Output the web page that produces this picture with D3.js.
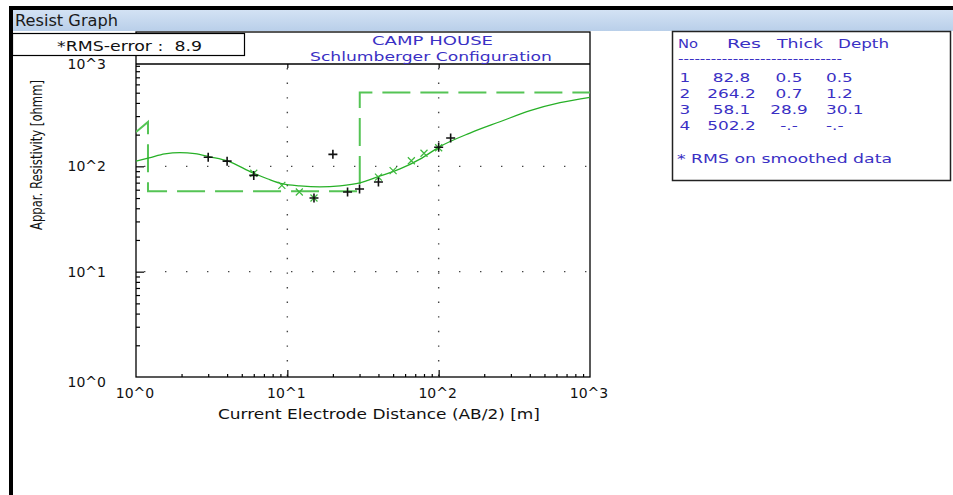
<!DOCTYPE html>
<html><head><meta charset="utf-8">
<script src="https://cdn.jsdelivr.net/npm/d3@7"></script>
<style>html,body{margin:0;padding:0;background:#fff;overflow:hidden} text{white-space:pre}</style>
</head><body><svg id="c" width="953" height="495"></svg>
<script>
// ---------- data ----------
const windowTitle = "Resist Graph";
const rmsLabel = "*RMS-error :  8.9";
const chartTitle = ["CAMP HOUSE", "Schlumberger Configuration"];
const xAxisTitle = "Current Electrode Distance (AB/2) [m]";
const yAxisTitle = "Appar. Resistivity [ohmm]";
const xTickValues = [1, 10, 100, 1000];
const xTickLabels = ["10^0", "10^1", "10^2", "10^3"];
const yTickValues = [1, 10, 100, 1000];
const yTickLabels = ["10^0", "10^1", "10^2", "10^3"];

// observed apparent resistivity (black +)
const obsX = [3.0, 4.0, 6.0, 15, 20, 25, 30, 40, 100, 120];
const obsY = [122, 112, 82, 50, 130, 57, 61, 71, 152, 186];
// smoothed data (green x)
const smoothX = [6.0, 9.2, 12, 15, 40, 50, 66, 80, 100];
const smoothY = [86, 66, 57, 50, 79, 91, 113, 133, 150];
// calculated response curve (green solid)
const curveX = [1, 1.22, 1.55, 1.95, 2.45, 3.08, 4.05, 5.93, 7.45, 9.36, 12.1, 16.4, 22.3, 30.2, 41, 55.5, 75.3, 102, 161, 254, 402, 634, 1000];
const curveY = [112, 120, 131, 135, 132, 123, 112, 86.5, 75.8, 68, 65.1, 63.7, 65.1, 69.5, 81, 94.4, 117, 154, 207, 265, 338, 402, 452];
// layered model (green dashed)
const modelX = [1, 1.2, 1.2, 30.1, 30.1, 1000];
const modelY = [212, 264.2, 58.1, 58.1, 502.2, 502.2];

// layer table
const tableHeader = ["No", "Res", "Thick", "Depth"];
const layerNo = ["1", "2", "3", "4"];
const layerRes = ["82.8", "264.2", "58.1", "502.2"];
const layerThick = ["0.5", "0.7", "28.9", "-.-"];
const layerDepth = ["0.5", "1.2", "30.1", "-.-"];
const tableNote = "* RMS on smoothed data";

// ---------- drawing ----------
const svg = d3.select("#c");
const FONT = "'DejaVu Sans', Verdana, sans-serif";
const BLUE = "#3a30c4";
const GREEN_LINE = "#27b027";
const GREEN_DASH = "#55c455";

function txt(parent, x, y, s, o) {
  o = o || {};
  const t = parent.append("text").attr("x", x).attr("y", y).text(s)
    .attr("font-family", FONT).attr("font-size", o.size || 13)
    .attr("fill", o.fill || "#111").attr("text-anchor", o.anchor || "start")
    .attr("xml:space", "preserve");
  if (o.width) t.attr("textLength", o.width).attr("lengthAdjust", "spacingAndGlyphs");
  if (o.transform) t.attr("transform", o.transform);
  return t;
}

// window chrome
const defs = svg.append("defs");
const grad = defs.append("linearGradient").attr("id", "tb").attr("x1", 0).attr("y1", 0).attr("x2", 0).attr("y2", 1);
grad.append("stop").attr("offset", "0%").attr("stop-color", "#d3e2f4");
grad.append("stop").attr("offset", "100%").attr("stop-color", "#b9cfe9");
svg.append("rect").attr("x", 9).attr("y", 6).attr("width", 944).attr("height", 4).attr("fill", "#000");
svg.append("rect").attr("x", 13).attr("y", 10).attr("width", 940).attr("height", 21).attr("fill", "url(#tb)");
svg.append("rect").attr("x", 9).attr("y", 6).attr("width", 4).attr("height", 489).attr("fill", "#000");
txt(svg, 15, 26, windowTitle, { size: 15, width: 103, fill: "#1a1a1a" });

// scales
const x = d3.scaleLog().domain([1, 1000]).range([136, 590]);
const y = d3.scaleLog().domain([1, 1000]).range([377, 61]);
const plotTop = 64, frameTop = 32;

defs.append("clipPath").attr("id", "pc").append("rect")
  .attr("x", x(1)).attr("y", plotTop).attr("width", x(1000) - x(1)).attr("height", y(1) - plotTop);

// frame
svg.append("rect").attr("x", x(1)).attr("y", frameTop).attr("width", x(1000) - x(1)).attr("height", y(1) - frameTop)
  .attr("fill", "none").attr("stroke", "#000").attr("stroke-width", 1.3);
svg.append("line").attr("x1", x(1)).attr("x2", x(1000)).attr("y1", plotTop).attr("y2", plotTop)
  .attr("stroke", "#000").attr("stroke-width", 1.3);

// dotted grid
[10, 100].forEach(v => {
  svg.append("line").attr("x1", x(v)).attr("x2", x(v)).attr("y1", plotTop + 4).attr("y2", y(1))
    .attr("stroke", "#444").attr("stroke-width", 1.4).attr("stroke-dasharray", "1.4,13.2");
  svg.append("line").attr("x1", x(1) + 8).attr("x2", x(1000)).attr("y1", y(v)).attr("y2", y(v))
    .attr("stroke", "#444").attr("stroke-width", 1.4).attr("stroke-dasharray", "1.4,19.6");
});

// axes ticks (inside)
const minor = [];
[1, 10, 100].forEach(d => { for (let k = 2; k <= 9; k++) minor.push(d * k); });
const leftAx = svg.append("g").attr("transform", `translate(${x(1)},0)`)
  .call(d3.axisRight(y).tickValues(yTickValues.slice(1, 3)).tickSize(8).tickFormat(""));
const leftMinor = svg.append("g").attr("transform", `translate(${x(1)},0)`)
  .call(d3.axisRight(y).tickValues(minor).tickSize(4).tickFormat(""));
const botAx = svg.append("g").attr("transform", `translate(0,${y(1)})`)
  .call(d3.axisTop(x).tickValues(xTickValues.slice(1, 3)).tickSize(7).tickFormat(""));
const botMinor = svg.append("g").attr("transform", `translate(0,${y(1)})`)
  .call(d3.axisTop(x).tickValues(minor).tickSize(3).tickFormat(""));
const topAx = svg.append("g").attr("transform", `translate(0,${plotTop})`)
  .call(d3.axisBottom(x).tickValues(xTickValues.slice(1, 3)).tickSize(4).tickFormat(""));
[leftAx, leftMinor, botAx, botMinor, topAx].forEach(g => {
  g.select(".domain").remove();
  g.selectAll("line").attr("stroke", "#000").attr("stroke-width", 1.2);
});

// tick labels
xTickValues.forEach((v, i) => txt(svg, x(v) - 1, 398, xTickLabels[i], { size: 14, anchor: "middle", fill: "#111" }));
yTickValues.forEach((v, i) => {
  const yy = y(v) + (v === 1 ? 5 : 0) + (v === 1000 ? 2.5 : 0);
  txt(svg, 106, yy + 5, yTickLabels[i], { size: 14, anchor: "end", fill: "#111" });
});

// axis titles
txt(svg, 218, 419, xAxisTitle, { size: 14, width: 322, fill: "#111" });
txt(svg, 0, 0, yAxisTitle, { size: 12, width: 150, anchor: "middle", fill: "#111",
  transform: "translate(42,155) rotate(-90) scale(1,1.25)" });

// chart titles
txt(svg, 372, 45, chartTitle[0], { size: 13, width: 121, fill: BLUE });
txt(svg, 310, 61, chartTitle[1], { size: 13, width: 242, fill: BLUE });

// plot marks
const pg = svg.append("g").attr("clip-path", "url(#pc)");
const lineGen = d3.line().x(d => x(d[0])).y(d => y(d[1]));
pg.append("path").datum(modelX.map((v, i) => [v, modelY[i]]))
  .attr("d", lineGen).attr("fill", "none").attr("stroke", GREEN_DASH)
  .attr("stroke-width", 2).attr("stroke-dasharray", "28,10");
pg.append("path").datum(curveX.map((v, i) => [v, curveY[i]]))
  .attr("d", lineGen.curve(d3.curveMonotoneX)).attr("fill", "none")
  .attr("stroke", GREEN_LINE).attr("stroke-width", 1.3);

// smoothed x markers
smoothX.forEach((v, i) => {
  const cx = x(v), cy = y(smoothY[i]), s = 3.5;
  pg.append("path").attr("d", `M${cx - s},${cy - s}L${cx + s},${cy + s}M${cx - s},${cy + s}L${cx + s},${cy - s}`)
    .attr("stroke", "#3cb83c").attr("stroke-width", 1.2).attr("fill", "none");
});
// observed + markers
obsX.forEach((v, i) => {
  const cx = x(v), cy = y(obsY[i]), s = 4.5;
  pg.append("path").attr("d", `M${cx - s},${cy}L${cx + s},${cy}M${cx},${cy - s}L${cx},${cy + s}`)
    .attr("stroke", "#111").attr("stroke-width", 1.6).attr("fill", "none");
});

// RMS box
svg.append("rect").attr("x", 12.5).attr("y", 33.5).attr("width", 232).attr("height", 22)
  .attr("fill", "#fff").attr("stroke", "#000").attr("stroke-width", 1.2);
txt(svg, 57, 50.5, rmsLabel, { size: 14.5, width: 145, fill: "#111" });

// layer table panel
svg.append("rect").attr("x", 672.5).attr("y", 31.5).attr("width", 278).attr("height", 149)
  .attr("fill", "#fff").attr("stroke", "#222").attr("stroke-width", 1.5);
const hdrX = [678, 727, 777, 838], hdrW = [20, 34, 46, 51];
tableHeader.forEach((h, i) => txt(svg, hdrX[i], 48, h, { size: 13, width: hdrW[i], fill: BLUE }));
txt(svg, 678, 63, "-".repeat(30), { size: 12, width: 164, fill: BLUE });
const rowY = [81.5, 97.8, 114.1, 130.4];
const sx = 1.3;
function cell(xp, yp, s, anchor) {
  txt(svg, 0, 0, s, { size: 13, anchor: anchor, fill: BLUE, transform: `translate(${xp},${yp}) scale(${sx},1)` });
}
layerNo.forEach((s, i) => {
  cell(685, rowY[i], s, "middle");
  cell(731.5, rowY[i], layerRes[i], "middle");
  cell(789, rowY[i], layerThick[i], "middle");
  cell(826, rowY[i], layerDepth[i], "start");
});
txt(svg, 677, 163, tableNote, { size: 13, width: 215, fill: BLUE });
</script>
</body></html>
